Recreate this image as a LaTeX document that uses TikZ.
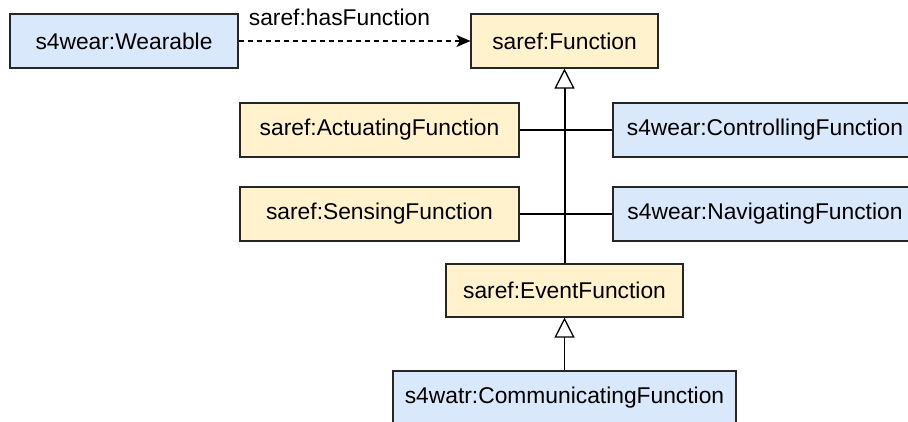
\documentclass[tikz,border=0pt]{standalone}
\usepackage{fontspec}
\setmainfont{Liberation Sans}
\usetikzlibrary{arrows.meta}
\definecolor{yfill}{HTML}{FFF2CC}
\definecolor{bfill}{HTML}{DAE8FC}
\begin{document}
\begin{tikzpicture}[x=1pt,y=-1pt,
  box/.style={draw=black!85, line width=1.1pt, inner sep=0pt, minimum height=54pt,
    font=\fontsize{22.8}{27}\selectfont},
  ybox/.style={box, fill=yfill},
  bbox/.style={box, fill=bfill},
  gen/.style={line width=1.1pt, -{Triangle[open, length=20pt, width=20pt, fill=white, line width=1.3pt]}},
  link/.style={line width=1.1pt},
  dep/.style={line width=1.1pt, dash pattern=on 5pt off 4pt, -{Stealth[length=14pt, width=12pt, inset=3.5pt]}},
  lbl/.style={font=\fontsize{22.8}{27}\selectfont, inner sep=0pt}
]
\useasboundingbox (0,0) rectangle (908,421);
\clip (0,0) rectangle (908,421);
\node[bbox, minimum width=228pt] (wear) at (124,41) {s4wear:Wearable};
\node[ybox, minimum width=187pt] (func) at (564.5,41) {saref:Function};
\node[ybox, minimum width=279pt] (act) at (379.5,130) {saref:ActuatingFunction};
\node[ybox, minimum width=279pt] (sens) at (379.5,214) {saref:SensingFunction};
\node[bbox, minimum width=304pt] (ctrl) at (765,130) {s4wear:ControllingFunction};
\node[bbox, minimum width=304pt] (nav) at (765,214) {s4wear:NavigatingFunction};
\node[ybox, minimum width=237pt, minimum height=53pt] (event) at (564.5,290.5) {saref:EventFunction};
\node[bbox, minimum width=343pt] (comm) at (564.5,398) {s4watr:CommunicatingFunction};

\draw[dep] (wear.east) -- (func.west);
\node[lbl] (hasf) at (339.5,17.5) {saref:hasFunction};

\draw[link] (act.east) -- (ctrl.west);
\draw[link] (sens.east) -- (nav.west);
\draw[gen, line width=2pt] (event.north) -- (func.south);
\draw[gen] (comm.north) -- (event.south);
\end{tikzpicture}
\end{document}
